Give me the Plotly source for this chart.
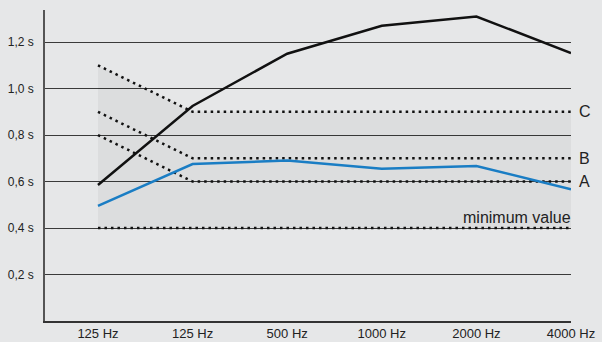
import plotly.graph_objects as go

categories = ["125 Hz", "125 Hz", "500 Hz", "1000 Hz", "2000 Hz", "4000 Hz"]
measured_black = [0.585, 0.925, 1.15, 1.27, 1.31, 1.153]
measured_blue = [0.495, 0.675, 0.69, 0.655, 0.667, 0.567]
limit_c = [1.1, 0.9, 0.9, 0.9, 0.9, 0.9]
limit_b = [0.9, 0.7, 0.7, 0.7, 0.7, 0.7]
limit_a = [0.8, 0.6, 0.6, 0.6, 0.6, 0.6]
minimum = [0.4, 0.4, 0.4, 0.4, 0.4, 0.4]
y_ticks = [0.2, 0.4, 0.6, 0.8, 1.0, 1.2]
y_ticktext = ["0,2 s", "0,4 s", "0,6 s", "0,8 s", "1,0 s", "1,2 s"]

xs = list(range(len(categories)))
FONT = "Liberation Sans, Arial, sans-serif"
BG = "#e6e7e8"
dot = "2.5px,4px"

fig = go.Figure()
fig.add_trace(go.Scatter(x=xs, y=minimum, mode="lines", line=dict(width=0), hoverinfo="skip", showlegend=False))
fig.add_trace(go.Scatter(x=xs, y=limit_c, mode="lines", line=dict(width=0), fill="tonexty",
                         fillcolor="rgba(0,0,0,0.045)", hoverinfo="skip", showlegend=False))
for ys in [minimum, limit_a, limit_b, limit_c]:
    fig.add_trace(go.Scatter(x=xs, y=ys, mode="lines", line=dict(color="#111", width=2.5, dash=dot),
                             showlegend=False))
fig.add_trace(go.Scatter(x=xs, y=measured_blue, mode="lines", line=dict(color="#1a7dc4", width=2.5), showlegend=False))
fig.add_trace(go.Scatter(x=xs, y=measured_black, mode="lines", line=dict(color="#111", width=2.5), showlegend=False))

for lbl, ys in [("C", limit_c), ("B", limit_b), ("A", limit_a)]:
    fig.add_annotation(x=xs[-1], y=ys[-1], text=lbl, showarrow=False, xanchor="left", yanchor="middle",
                       xshift=6, font=dict(family=FONT, size=16, color="#222"))
fig.add_annotation(x=xs[-1], y=minimum[-1], text="minimum value", showarrow=False, xanchor="right",
                   yanchor="bottom", yshift=0, xshift=2, font=dict(family=FONT, size=16, color="#222"))

fig.update_layout(
    width=602, height=342,
    margin=dict(l=45, r=31, t=10, b=21, autoexpand=False),
    paper_bgcolor=BG, plot_bgcolor=BG,
    font=dict(family=FONT, size=12, color="#222"),
    xaxis=dict(range=[-0.56, 5], tickvals=xs, ticktext=categories, showgrid=False, zeroline=False,
               showline=True, linecolor="#333", linewidth=1.5, ticks="", ticklen=0, automargin=False,
               tickfont=dict(size=13, color="#222")),
    yaxis=dict(range=[0, 1.338], tickvals=y_ticks, ticktext=y_ticktext, showgrid=True,
               gridcolor="#3a3a3a", gridwidth=1, zeroline=False, showline=True, linecolor="#555",
               linewidth=1.5, ticks="", ticklen=0, ticklabelstandoff=7, automargin=False,
               tickfont=dict(size=12, color="#222")),
)
fig.write_html("out.html", config={"displayModeBar": False},
               post_script="document.body.style.margin='0';document.body.style.background='#e6e7e8';")
